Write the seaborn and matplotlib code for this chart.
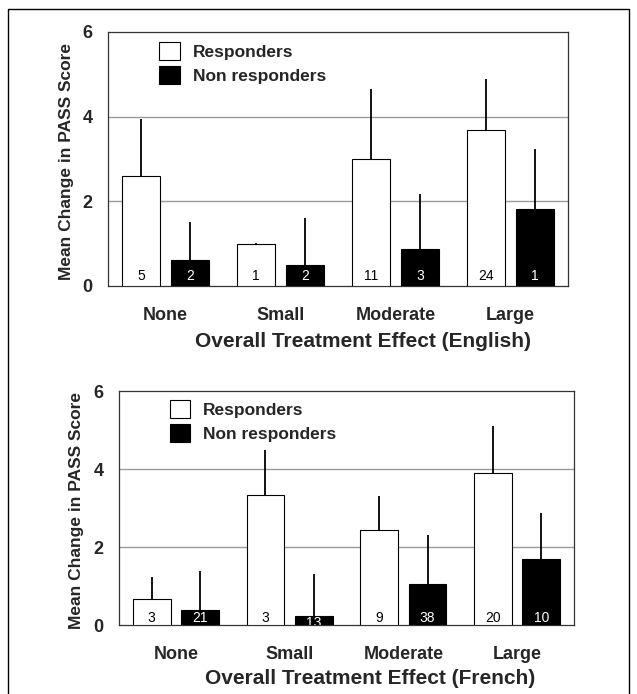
import matplotlib
matplotlib.use("Agg")
import matplotlib.pyplot as plt
import seaborn as sns
import pandas as pd
from matplotlib.patches import Patch, Rectangle

effects = ["None", "Small", "Moderate", "Large"]
groups = ["Responders", "Non responders"]

# English panel
en_resp_mean = [2.61, 0.99, 3.00, 3.68]
en_resp_top = [3.94, 1.02, 4.66, 4.90]
en_resp_n = [5, 1, 11, 24]
en_non_mean = [0.61, 0.50, 0.87, 1.82]
en_non_top = [1.51, 1.61, 2.17, 3.23]
en_non_n = [2, 2, 3, 1]

# French panel
fr_resp_mean = [0.66, 3.34, 2.44, 3.91]
fr_resp_top = [1.24, 4.48, 3.31, 5.11]
fr_resp_n = [3, 3, 9, 20]
fr_non_mean = [0.39, 0.22, 1.04, 1.70]
fr_non_top = [1.38, 1.30, 2.30, 2.86]
fr_non_n = [21, 13, 38, 10]

yticks = [0, 2, 4, 6]

sns.set_theme(style="white")
plt.rcParams["font.family"] = ["Liberation Sans", "DejaVu Sans"]

W, H = 637, 694
fig = plt.figure(figsize=(W / 100, H / 100), dpi=100)
fig.patch.set_facecolor("white")

# outer frame
fig.patches.append(Rectangle((8 / W, -0.1), (629 - 8) / W, 1.1 - 9 / H,
                             transform=fig.transFigure, fill=False,
                             edgecolor="black", linewidth=1.0))


def make_panel(rect, resp_mean, resp_top, resp_n, non_mean, non_top, non_n,
               xlabel, xlab_xy, ylab_xy, leg_xy, n_offsets):
    ax = fig.add_axes(rect)
    df = pd.DataFrame({
        "effect": effects * 2,
        "group": [groups[0]] * 4 + [groups[1]] * 4,
        "mean": resp_mean + non_mean,
        "top": resp_top + non_top,
        "n": resp_n + non_n,
    })
    sns.barplot(data=df, x="effect", y="mean", hue="group", order=effects,
                hue_order=groups, palette={groups[0]: "white", groups[1]: "black"},
                edgecolor="black", linewidth=0.8, width=0.85, gap=0.22,
                errorbar=None, legend=False, ax=ax, zorder=3)
    bars = [p for p in ax.patches if isinstance(p, Rectangle)]
    for p, (_, row) in zip(bars, df.iterrows()):
        xc = p.get_x() + p.get_width() / 2
        h = p.get_height()
        ax.vlines(xc, h, row["top"], color="black", linewidth=1.3, zorder=4)
        is_black = row["group"] == groups[1]
        off = n_offsets.get(int(row["n"]) if is_black else -1, n_offsets["default"])
        ax.annotate(str(int(row["n"])), (xc, 0), xytext=(0, off),
                    textcoords="offset points", ha="center", va="center",
                    fontsize=10, color="white" if is_black else "black",
                    zorder=5, annotation_clip=True, clip_on=True)
    ax.set_xlim(-0.5, 3.5)
    ax.set_ylim(0, 6)
    ax.set_yticks(yticks)
    ax.set_yticklabels([str(v) for v in yticks], fontsize=13, fontweight="bold")
    ax.set_xticks(range(4))
    ax.set_xticklabels(effects, fontsize=13, fontweight="bold")
    ax.tick_params(axis="y", length=0, pad=11)
    ax.tick_params(axis="x", length=0, pad=15)
    ax.set_axisbelow(True)
    for v in [2, 4]:
        ax.axhline(v, color="#9a9a9a", linewidth=1.0, zorder=1)
    for s in ax.spines.values():
        s.set_color("#333333")
        s.set_linewidth(0.9)
        s.set_visible(True)
    ax.set_xlabel(xlabel, fontsize=15, fontweight="bold")
    ax.xaxis.set_label_coords(*xlab_xy)
    ax.xaxis.label.set_va("center")
    ax.set_ylabel("Mean Change in PASS Score", fontsize=12.5, fontweight="bold")
    ax.yaxis.set_label_coords(*ylab_xy)
    ax.yaxis.label.set_va("center")
    handles = [Patch(facecolor="white", edgecolor="black", linewidth=0.8),
               Patch(facecolor="black", edgecolor="black", linewidth=0.8)]
    leg = ax.legend(handles, groups, loc="upper left", bbox_to_anchor=leg_xy,
                    frameon=False, borderpad=0, borderaxespad=0,
                    handlelength=1.2, handleheight=1.2, handletextpad=0.75,
                    labelspacing=0.35, prop={"size": 12.5, "weight": "bold"})
    return ax


make_panel([108 / W, 1 - 286 / H, 460 / W, 254 / H],
           en_resp_mean, en_resp_top, en_resp_n, en_non_mean, en_non_top, en_non_n,
           "Overall Treatment Effect (English)",
           ((363 - 108) / 460, -(341.5 - 286) / 254),
           ((66 - 108) / 460, 0.49),
           ((159 - 108) / 460, (286 - 42) / 254),
           {"default": 7.2})

make_panel([119 / W, 1 - 625 / H, 455 / W, 234 / H],
           fr_resp_mean, fr_resp_top, fr_resp_n, fr_non_mean, fr_non_top, fr_non_n,
           "Overall Treatment Effect (French)",
           ((370 - 119) / 455, -(679 - 625) / 234),
           ((77 - 119) / 455, 0.49),
           ((169.5 - 119) / 455, (625 - 400) / 234),
           {"default": 5.0, 13: 1.5})

fig.savefig("out.png", dpi=100)
